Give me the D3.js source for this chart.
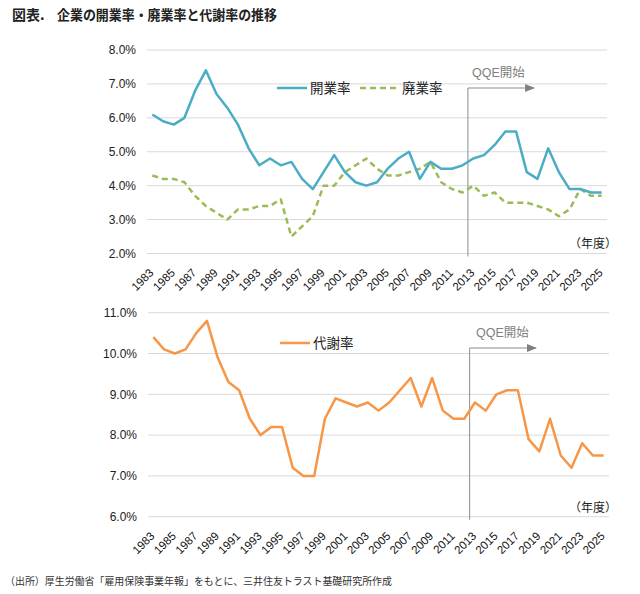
<!DOCTYPE html>
<html>
<head>
<meta charset="utf-8">
<script src="https://cdn.jsdelivr.net/npm/d3@7"></script>
<style>
  body { margin: 0; background: #fff; }
  svg { display: block; }
</style>
</head>
<body>
<div id="chart"></div>
<script>
// fiscal years 1983-2025
const years = d3.range(1983, 2026).map(String);

// 開業率 (%)
const openRate = [6.1, 5.9, 5.8, 6.0, 6.8, 7.4, 6.7, 6.3, 5.8, 5.1,
                  4.6, 4.8, 4.6, 4.7, 4.2, 3.9, 4.4, 4.9, 4.4, 4.1,
                  4.0, 4.1, 4.5, 4.8, 5.0, 4.2, 4.7, 4.5, 4.5, 4.6,
                  4.8, 4.9, 5.2, 5.6, 5.6, 4.4, 4.2, 5.1, 4.4, 3.9,
                  3.9, 3.8, 3.8];
// 廃業率 (%)
const closeRate = [4.3, 4.2, 4.2, 4.1, 3.7, 3.4, 3.2, 3.0, 3.3, 3.3,
                   3.4, 3.4, 3.6, 2.5, 2.8, 3.1, 4.0, 4.0, 4.4, 4.6,
                   4.8, 4.5, 4.3, 4.3, 4.4, 4.5, 4.7, 4.1, 3.9, 3.8,
                   4.0, 3.7, 3.8, 3.5, 3.5, 3.5, 3.4, 3.3, 3.1, 3.3,
                   3.9, 3.7, 3.7];
// 代謝率 (%)
const turnoverRate = [10.4, 10.1, 10.0, 10.1, 10.5, 10.8, 9.9, 9.3, 9.1, 8.4,
                      8.0, 8.2, 8.2, 7.2, 7.0, 7.0, 8.4, 8.9, 8.8, 8.7,
                      8.8, 8.6, 8.8, 9.1, 9.4, 8.7, 9.4, 8.6, 8.4, 8.4,
                      8.8, 8.6, 9.0, 9.1, 9.1, 7.9, 7.6, 8.4, 7.5, 7.2,
                      7.8, 7.5, 7.5];

const topTicks = [2, 3, 4, 5, 6, 7, 8];
const bottomTicks = [6, 7, 8, 9, 10, 11];
const qqeStart = '2013';
const arrowEnd = '2019';

const width = 640, height = 594;
const font = '"Liberation Sans", Arial, "Noto Sans CJK JP", sans-serif';
const jpFont = '"Noto Sans CJK JP", sans-serif';

const svg = d3.select('#chart').append('svg')
    .attr('width', width)
    .attr('height', height);

svg.append('defs').append('marker')
    .attr('id', 'arrow')
    .attr('viewBox', '0 0 10 10')
    .attr('refX', 9).attr('refY', 5)
    .attr('markerWidth', 10).attr('markerHeight', 10)
    .attr('markerUnits', 'userSpaceOnUse')
    .attr('orient', 'auto')
    .append('path')
    .attr('d', 'M0,1 L10,5 L0,9 Z')
    .attr('fill', '#808080');

// Title
svg.append('text')
    .attr('x', 12).attr('y', 20)
    .attr('font-family', jpFont)
    .attr('font-size', '14px')
    .attr('font-weight', 'bold')
    .attr('fill', '#222')
    .text('図表.');
svg.append('text')
    .attr('x', 57).attr('y', 20)
    .attr('font-family', jpFont)
    .attr('font-size', '14px')
    .attr('font-weight', 'bold')
    .attr('fill', '#222')
    .attr('textLength', 220)
    .attr('lengthAdjust', 'spacingAndGlyphs')
    .text('企業の開業率・廃業率と代謝率の推移');

function drawPanel(opts) {
    const {xRange, yRange, domain, ticks, series, legend, qqeTop, qqeText, unitY} = opts;

    const x = d3.scaleBand().domain(years).range(xRange).padding(0);
    const y = d3.scaleLinear().domain(domain).range(yRange);
    const g = svg.append('g');

    // Grid lines
    g.selectAll('line.grid')
        .data(ticks)
        .enter()
        .append('line')
        .attr('class', 'grid')
        .attr('x1', xRange[0])
        .attr('x2', xRange[1])
        .attr('y1', d => y(d))
        .attr('y2', d => y(d))
        .attr('stroke', '#d9d9d9')
        .attr('stroke-width', 1);

    // Y axis labels
    g.append('g')
        .attr('transform', `translate(${xRange[0] - 11},0)`)
        .call(d3.axisLeft(y).tickValues(ticks).tickSize(0).tickPadding(0)
            .tickFormat(d => d3.format('.1f')(d) + '%'))
        .call(a => a.select('.domain').remove())
        .call(a => a.selectAll('text')
            .attr('font-family', font)
            .attr('font-size', '12px')
            .attr('fill', '#222'));

    // X axis labels (every other year, rotated)
    const axisY = y(domain[0]);
    g.append('g')
        .attr('transform', `translate(0,${axisY})`)
        .call(d3.axisBottom(x).tickValues(years.filter(d => +d % 2 === 1)).tickSize(0))
        .call(a => a.select('.domain').remove())
        .call(a => a.selectAll('text')
            .attr('font-family', font)
            .attr('font-size', '11.5px')
            .attr('fill', '#111')
            .attr('text-anchor', 'end')
            .attr('x', 0)
            .attr('y', 0)
            .attr('dy', 0)
            .attr('transform', 'translate(2,20) rotate(-45)'));

    // QQE marker
    const qx = x(qqeStart);
    g.append('line')
        .attr('x1', qx).attr('x2', qx)
        .attr('y1', axisY + 3).attr('y2', qqeTop)
        .attr('stroke', '#8c8c8c')
        .attr('stroke-width', 1);
    g.append('line')
        .attr('x1', qx).attr('x2', x(arrowEnd) + 2)
        .attr('y1', qqeTop).attr('y2', qqeTop)
        .attr('stroke', '#8c8c8c')
        .attr('stroke-width', 1)
        .attr('marker-end', 'url(#arrow)');
    g.append('text')
        .attr('x', qqeText[0]).attr('y', qqeText[1])
        .attr('font-family', font)
        .attr('font-size', '12.5px')
        .attr('fill', '#808080')
        .text('QQE開始');

    // Series lines
    series.forEach(s => {
        const line = d3.line()
            .x((d, i) => x(years[i]) + x.bandwidth() / 2)
            .y(d => y(d));
        g.append('path')
            .datum(s.values)
            .attr('d', line)
            .attr('fill', 'none')
            .attr('stroke', s.color)
            .attr('stroke-width', 2.5)
            .attr('stroke-linejoin', 'round')
            .attr('stroke-dasharray', s.dash || null);
    });

    // Legend
    legend.forEach(l => {
        g.append('line')
            .attr('x1', l.x).attr('x2', l.x + (l.dash ? 38 : 30))
            .attr('y1', l.y).attr('y2', l.y)
            .attr('stroke', l.color)
            .attr('stroke-width', 2.5)
            .attr('stroke-dasharray', l.dash || null);
        g.append('text')
            .attr('x', l.x + (l.dash ? 42 : 33)).attr('y', l.y + 5)
            .attr('font-family', jpFont)
            .attr('font-size', '13.5px')
            .attr('fill', '#222')
            .text(l.name);
    });

    // Unit label
    g.append('text')
        .attr('x', 569).attr('y', unitY)
        .attr('font-family', jpFont)
        .attr('font-size', '12px')
        .attr('fill', '#222')
        .text('（年度）');
}

const blue = '#4bacc6', green = '#9bbb59', orange = '#f79646';

drawPanel({
    xRange: [147, 607],
    yRange: [253.5, 50],
    domain: [2, 8],
    ticks: topTicks,
    series: [
        {values: closeRate, color: green, dash: '6,4'},
        {values: openRate, color: blue}
    ],
    legend: [
        {name: '開業率', x: 277, y: 88, color: blue},
        {name: '廃業率', x: 360, y: 88, color: green, dash: '6,4'}
    ],
    qqeTop: 88,
    qqeText: [472, 77],
    unitY: 248
});

drawPanel({
    xRange: [148, 609],
    yRange: [516.7, 312.7],
    domain: [6, 11],
    ticks: bottomTicks,
    series: [
        {values: turnoverRate, color: orange}
    ],
    legend: [
        {name: '代謝率', x: 280, y: 343, color: orange}
    ],
    qqeTop: 348,
    qqeText: [476, 337],
    unitY: 512
});

// Source note
svg.append('text')
    .attr('x', 5).attr('y', 585)
    .attr('font-family', jpFont)
    .attr('font-size', '10.5px')
    .attr('fill', '#333')
    .attr('textLength', 387)
    .attr('lengthAdjust', 'spacingAndGlyphs')
    .text('（出所）厚生労働省「雇用保険事業年報」をもとに、三井住友トラスト基礎研究所作成');
</script>
</body>
</html>
